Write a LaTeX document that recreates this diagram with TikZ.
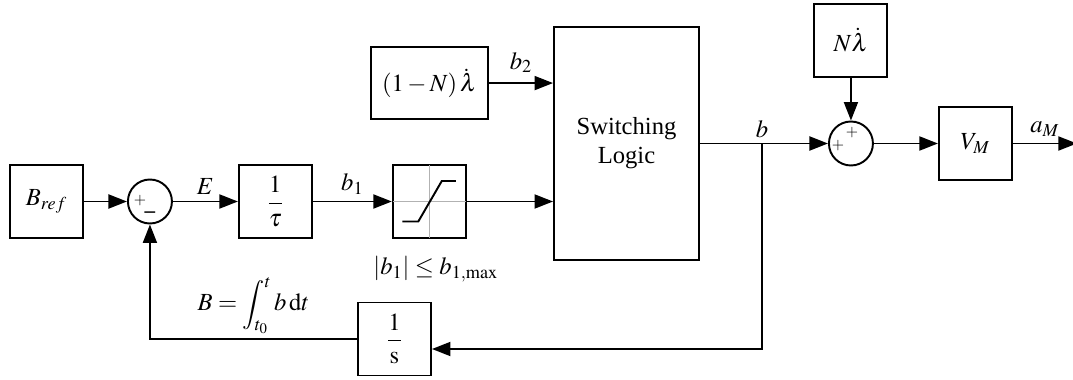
\documentclass[tikz,border=0pt]{standalone}
\usepackage{amsmath}
\usepackage{mathptmx}
\usepackage[no-math]{fontspec}
\setmainfont{Liberation Serif}
\usetikzlibrary{arrows.meta,positioning}
\tikzset{
    blockbox/.style={
        draw,
        line width=1.1pt,
        align=center,
        inner sep=2pt,
        minimum width=1.46cm,
        minimum height=1.46cm,
        font=\fontsize{14}{16.5}\selectfont
    },
    sumnode/.style={
        draw,
        circle,
        line width=1.1pt,
        inner sep=0pt,
        minimum size=0.88cm
    },
    signal/.style={
        -{Triangle[length=3.7mm, width=2.8mm]},
        line width=1.1pt
    },
    siglabel/.style={
        font=\fontsize{14}{16.5}\selectfont
    },
    signlabel/.style={
        font=\small,
        inner sep=0pt
    }
}

\begin{document}
\begin{tikzpicture}[node distance=0.86cm and 1.3cm]
        \useasboundingbox (0,0) rectangle (21.46,-7.6);

        % forward path
        \node[blockbox] (bref) at (0.93,-4.03) {$B_{ref}$};
        \node[sumnode, right=0.86cm of bref] (sum1) {};
        \node[blockbox, right=1.3cm of sum1] (tau) {$\dfrac{1}{\tau}$};
        \node[blockbox, right=1.58cm of tau] (sat) {};
        \node[blockbox, above=0.88cm of sat, minimum width=2.34cm, minimum height=1.44cm] (lam) {$\left(1-N\right)\dot{\lambda}$};
        \node[blockbox, minimum width=2.9cm, minimum height=4.66cm] (sw) at (12.53,-2.87) {Switching\\Logic};
        \node[sumnode, right=2.56cm of sw] (sum2) {};
        \node[blockbox, above=0.86cm of sum2] (nlam) {$N\dot{\lambda}$};
        \node[blockbox, right=1.28cm of sum2] (vm) {$V_M$};
        \node[blockbox] (integ) at (7.89,-6.78) {$\dfrac{1}{\mathrm{s}}$};

        \coordinate[right=1.28cm of vm] (out);
        \coordinate[right=1.24cm of sw.east] (br);

        % saturation symbol
        \draw[gray!60, line width=0.8pt, shorten <=0.55pt, shorten >=0.55pt] (sat.north) -- (sat.south);
        \draw[gray!60, line width=0.8pt, shorten <=0.55pt, shorten >=0.55pt] (sat.west) -- (sat.east);
        \begin{scope}[shift={(sat.center)}]
            \draw[line width=1.1pt] (-0.54,-0.40) -- (-0.22,-0.40) -- (0.25,0.41) -- (0.53,0.41);
        \end{scope}
        \node[siglabel, below=0.22cm of sat, xshift=0.13cm] (satlim) {$\left|b_1\right|\leq b_{1,\max}$};

        % signs
        \node[signlabel] at ([xshift=-0.2cm, yshift=0.02cm]sum1.center) {$+$};
        \node[signlabel, font=\large] at ([yshift=-0.27cm]sum1.center) {\textbf{--}};
        \node[signlabel] at ([xshift=-0.26cm, yshift=-0.04cm]sum2.center) {$+$};
        \node[signlabel] at ([xshift=0.02cm, yshift=0.21cm]sum2.center) {$+$};

        % signals
        \draw[signal] (bref.east) -- (sum1.west);
        \draw[signal] (sum1.east) -- node[siglabel, above] {$E$} (tau.west);
        \draw[signal] (tau.east) -- node[siglabel, above] {$b_1$} (sat.west);
        \draw[signal] (sat.east) -- (sat.east -| sw.west);
        \draw[signal] (lam.east) -- node[siglabel, above=2pt] {$b_2$} (lam.east -| sw.west);
        \draw[signal] (sw.east) -- (sum2.west);
        \node[siglabel, above] at (br) {$b$};
        \draw[signal] (nlam.south) -- (sum2.north);
        \draw[signal] (sum2.east) -- (vm.west);
        \draw[signal] (vm.east) -- node[siglabel, above] {$a_M$} (out);

        % feedback
        \draw[signal] (br) |- ([yshift=-0.2cm]integ.east);
        \draw[signal] (integ.west) -| node[siglabel, pos=0.25, above=-1pt] {$B=\displaystyle\int_{t_0}^{t} b\,\mathrm{d}t$} (sum1.south);
    \end{tikzpicture}
\end{document}
